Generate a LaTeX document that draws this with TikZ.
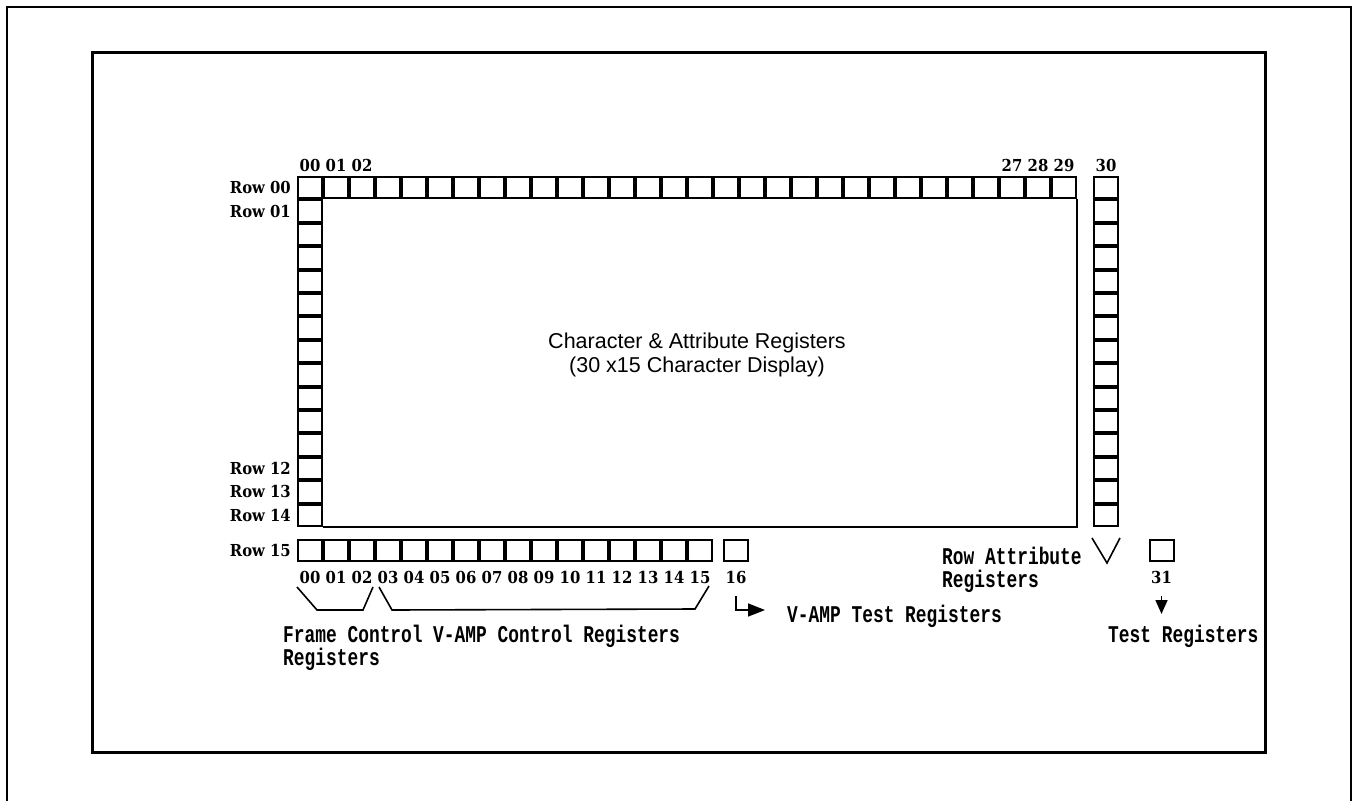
\documentclass[tikz,border=0pt]{standalone}
\usepackage{fontspec}
\setmainfont{Liberation Sans}
\newfontfamily\labfont[FakeStretch=0.745]{Liberation Mono}
\newfontfamily\numfont[FakeStretch=0.9]{DejaVu Serif}
\usetikzlibrary{positioning,arrows.meta}

\begin{document}
\begin{tikzpicture}[x=1pt,y=-1pt,node distance=0pt,
	cell/.style={
		% a single register box
		rectangle,
		minimum width=24pt,
		minimum height=21.4pt,
		inner sep=0pt,
		line width=2pt,
		draw=black
		},
	num/.style={
		% register numbers and row names
		font=\numfont\bfseries\fontsize{16.5}{16.5}\selectfont,
		inner sep=0pt
		},
	lab/.style={
		% group names
		font=\labfont\bfseries\fontsize{24}{23}\selectfont,
		align=left,
		inner sep=0pt,
		anchor=north west
		},
	wire/.style={line width=1.6pt}]

	\useasboundingbox (0,0) rectangle (1353,801);

	% frames
	\draw[line width=2pt] (7,810) -- (7,7) -- (1351,7) -- (1351,810);
	\draw[line width=3.5pt] (92.5,52.5) rectangle (1265.5,752.5);

	% top row, left column, row attribute column
	\node (t0) [cell,alias=l0] at (310,187.7) {};
	\foreach \i [count=\j from 0] in {1,...,29}
		\node (t\i) [cell,right=of t\j] {};
	\foreach \i [count=\j from 0] in {1,...,14}
		\node (l\i) [cell,below=of l\j] {};
	\node (r0) [cell] at (1106,187.7) {};
	\foreach \i [count=\j from 0] in {1,...,14}
		\node (r\i) [cell,below=of r\j] {};

	% display area
	\draw[line width=2pt] (t29.south east) |- (l14.south east);
	\node (disp) [align=center,font=\fontsize{21.5}{24}\selectfont] at (697,355)
		{Character \& Attribute Registers\\(30 x15 Character Display)};

	% row 15 and test registers
	\node (b0) [cell] at (310,550.5) {};
	\foreach \i [count=\j from 0] in {1,...,15}
		\node (b\i) [cell,right=of b\j] {};
	\node (b16) [cell,right=10pt of b15] {};
	\node (b31) [cell] at (1161.5,550.5) {};

	% numbers
	\foreach \i/\t in {0/00,1/01,2/02,27/27,28/28,29/29}
		\node [num,above=4pt of t\i] {\t};
	\node [num,above=4pt of r0] {30};
	\foreach \i/\t in {0/00,1/01,12/12,13/13,14/14}
		\node [num,left=6pt of l\i] {Row \t};
	\node [num,left=6pt of b0] {Row 15};
	\foreach \t [count=\i from 0] in {00,01,02,03,04,05,06,07,08,09,10,11,12,13,14,15,16}
		\node (n\i) [num,below=9pt of b\i] {\t};
	\node (n31) [num,below=9pt of b31] {31};

	% groups
	\draw[wire] (297,587) -- (317,610) -- (363,610) -- (373,587);
	\draw[wire] (379,587) -- (392,610) -- (695,609) -- (709,586);
	\draw[wire] (1092,538) -- (1107,563) -- (1120,538);

	\node (fcr) [lab] at (283,625) {Frame Control\\Registers};
	\node (vcr) [lab] at (433,625) {V-AMP Control Registers};
	\node (vtr) [lab] at (787,605) {V-AMP Test Registers};
	\node (rar) [lab] at (942,547) {Row Attribute\\Registers};
	\node (tsr) [lab] at (1108,625) {Test Registers};

	\coordinate (vtin) at (765,610);
	\coordinate (tsin) at (1161.5,614);
	\draw[wire,-{Triangle[length=17pt,width=13pt]}] ([yshift=-12pt]n16.south) |- (vtin);
	\draw[wire,-{Triangle[length=14pt,width=12pt]}] ([yshift=-12pt]n31.south) -- (tsin);

\end{tikzpicture}
\end{document}
